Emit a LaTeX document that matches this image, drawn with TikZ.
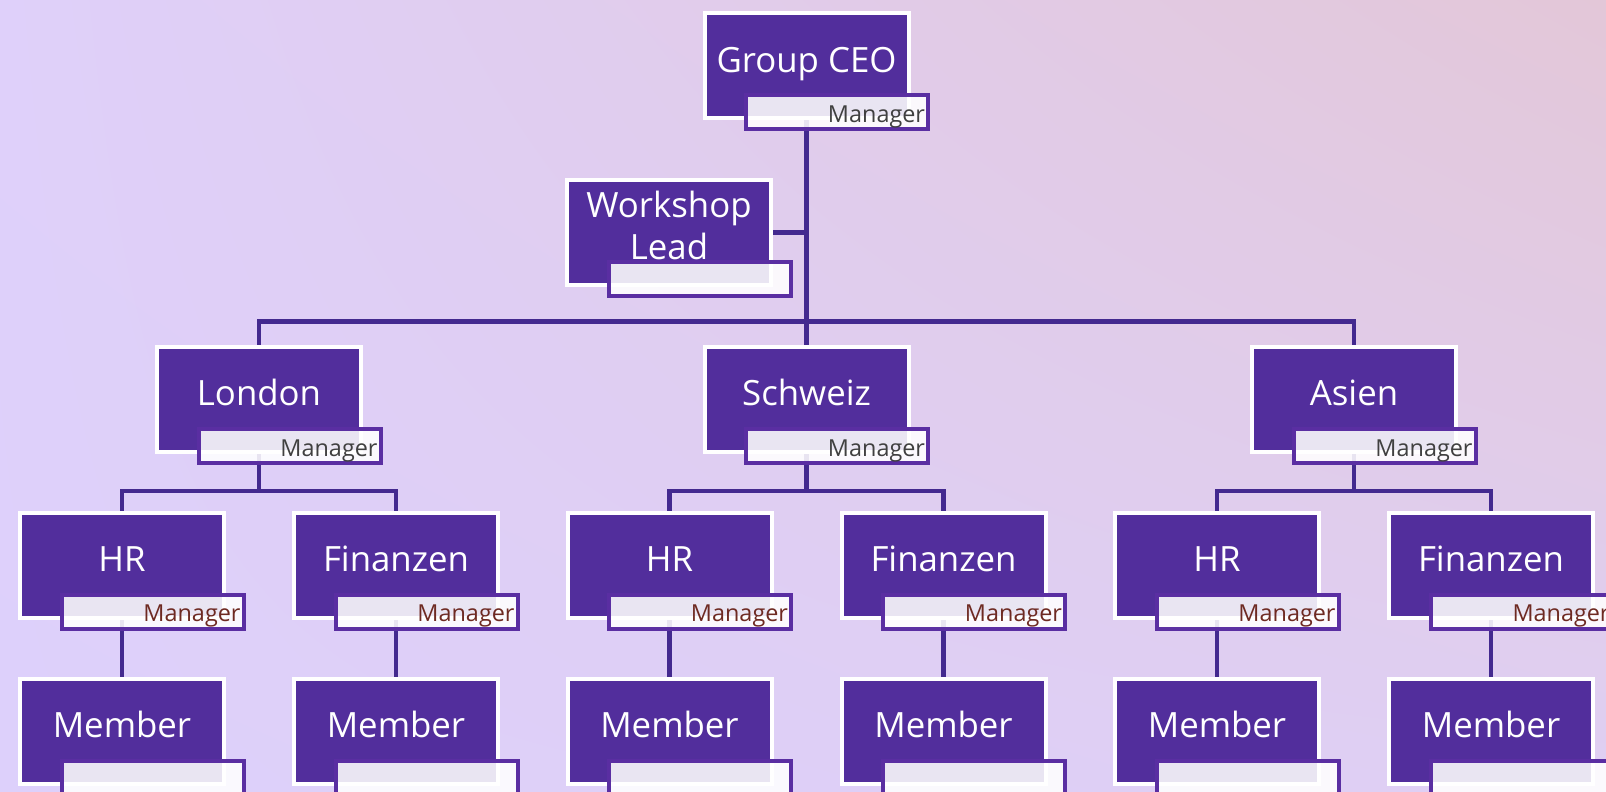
\documentclass[tikz,border=0pt]{standalone}
\usepackage{fontspec}
\setmainfont{Open Sans}
\usetikzlibrary{calc,positioning,backgrounds,shadings}
\definecolor{unitfill}{HTML}{522E9C}
\definecolor{tagline}{HTML}{5A2EA2}
\definecolor{link}{HTML}{43298F}
\definecolor{taggray}{HTML}{404040}
\definecolor{tagbrown}{HTML}{6E2A22}
\definecolor{bgul}{HTML}{DFD0FA}
\definecolor{bgll}{HTML}{DDD0FB}
\definecolor{bgur}{HTML}{E3C7D8}
\definecolor{bglr}{HTML}{DFCFF3}

\tikzset{
  unit/.style={draw=white, line width=2pt, fill=unitfill, text=white,
    minimum width=102pt, minimum height=52.5pt, inner sep=0pt,
    text height=12.5pt, text depth=6.4pt, font=\fontsize{17.4}{21}\selectfont},
  tag/.style={draw=tagline, line width=2pt, fill=white, fill opacity=0.88, text opacity=1,
    minimum width=91pt, minimum height=17pt, inner sep=0pt, text width=88pt, align=right,
    text height=10pt, text depth=0pt, font=\fontsize{11.7}{14}\selectfont},
  link/.style={draw=link, line width=2.2pt}
}

\begin{document}
\begin{tikzpicture}[x=0.5pt,y=-0.5pt]
  \useasboundingbox (0,0) rectangle (1606,792);

  % top of the tree
  \node[unit] (ceo) at (806.5,66) {Group CEO};
  \node[tag, text=taggray] (ceo-tag) at ($(ceo)+(30.5,46.5)$) {Manager};
  \node[unit] (workshop) at (669,232.5) {\begin{tabular}{@{}c@{}}Workshop\\Lead\end{tabular}};
  \node[tag] (workshop-tag) at ($(workshop)+(30.5,46.5)$) {};

  % regions with their departments
  \foreach \name/\txt/\x in {london/London/259, schweiz/Schweiz/806.5, asien/Asien/1354} {
    \node[unit] (\name) at (\x,399.5) {\txt};
    \node[tag, text=taggray] at ($(\name)+(30.5,46.5)$) {Manager};
    \node[unit] (\name-hr) at (\x-137,565) {HR};
    \node[tag, text=tagbrown] at ($(\name-hr)+(30.5,46.5)$) {Manager};
    \node[unit] (\name-fin) at (\x+137,565) {Finanzen};
    \node[tag, text=tagbrown] at ($(\name-fin)+(30.5,46.5)$) {Manager};
    \node[unit] (\name-hr-m) at (\x-137,731) {Member};
    \node[tag] at ($(\name-hr-m)+(30.5,46.5)$) {};
    \node[unit] (\name-fin-m) at (\x+137,731) {Member};
    \node[tag] at ($(\name-fin-m)+(30.5,46.5)$) {};
  }

  \begin{scope}[on background layer]
    \shade[upper left=bgul, upper right=bgur, lower left=bgll, lower right=bglr]
      (0,0) rectangle (1606,792);
    \coordinate (hub) at (806.5,321.6);
    \draw[link] (ceo.south) -- (hub);
    \draw[link] (workshop.east) -- (workshop.east -| hub);
    \draw[link] (london.north) |- (hub) -| (asien.north);
    \draw[link] (schweiz.north) -- (hub);
    \foreach \name in {london,schweiz,asien} {
      \coordinate (\name-fork) at ($(\name.south)+(0,37)$);
      \draw[link] (\name.south) -- (\name-fork);
      \draw[link] (\name-hr.north) |- (\name-fork) -| (\name-fin.north);
      \draw[link] (\name-hr.south) -- (\name-hr-m.north);
      \draw[link] (\name-fin.south) -- (\name-fin-m.north);
    }
  \end{scope}
\end{tikzpicture}
\end{document}
